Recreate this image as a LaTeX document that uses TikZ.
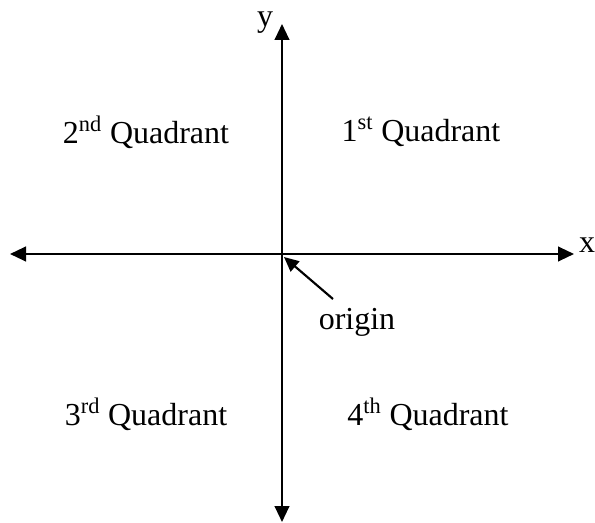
\documentclass[tikz,border=0pt]{standalone}
\usepackage{fontspec}
\setmainfont{Liberation Serif}
\usetikzlibrary{arrows.meta}
\begin{document}
\begin{tikzpicture}[x=0.75pt, y=-0.75pt,
    axis/.style={line width=1.6pt, {Triangle[length=12pt,width=11pt]}-{Triangle[length=12pt,width=11pt]}},
    pointer/.style={line width=1.6pt, -{Triangle[length=11pt,width=10pt]}},
    lbl/.style={font=\fontsize{24}{28}\selectfont, inner sep=0pt}]
    \useasboundingbox (0,0) rectangle (595,523);
    \coordinate (xl) at (10,254);
    \coordinate (xr) at (574,254);
    \coordinate (yt) at (282,24);
    \coordinate (yb) at (282,522);
    \coordinate (o) at (284,257);
        \draw[axis] (xl) -- (xr);
        \draw[axis] (yb) -- (yt);
    \node[lbl] (xlab) at (587,245) {x};
    \node[lbl] (ylab) at (265,23) {y};
    \node[lbl] (q1) at (421,132) {1\textsuperscript{st} Quadrant};
    \node[lbl] (q2) at (146,132) {2\textsuperscript{nd} Quadrant};
    \node[lbl] (q3) at (146,414) {3\textsuperscript{rd} Quadrant};
    \node[lbl] (q4) at (428,414) {4\textsuperscript{th} Quadrant};
    \node[lbl] (orig) at (357,322) {origin};
    \coordinate (tail) at (333,299);
        \draw[pointer] (tail) -- (o);
\end{tikzpicture}
\end{document}
